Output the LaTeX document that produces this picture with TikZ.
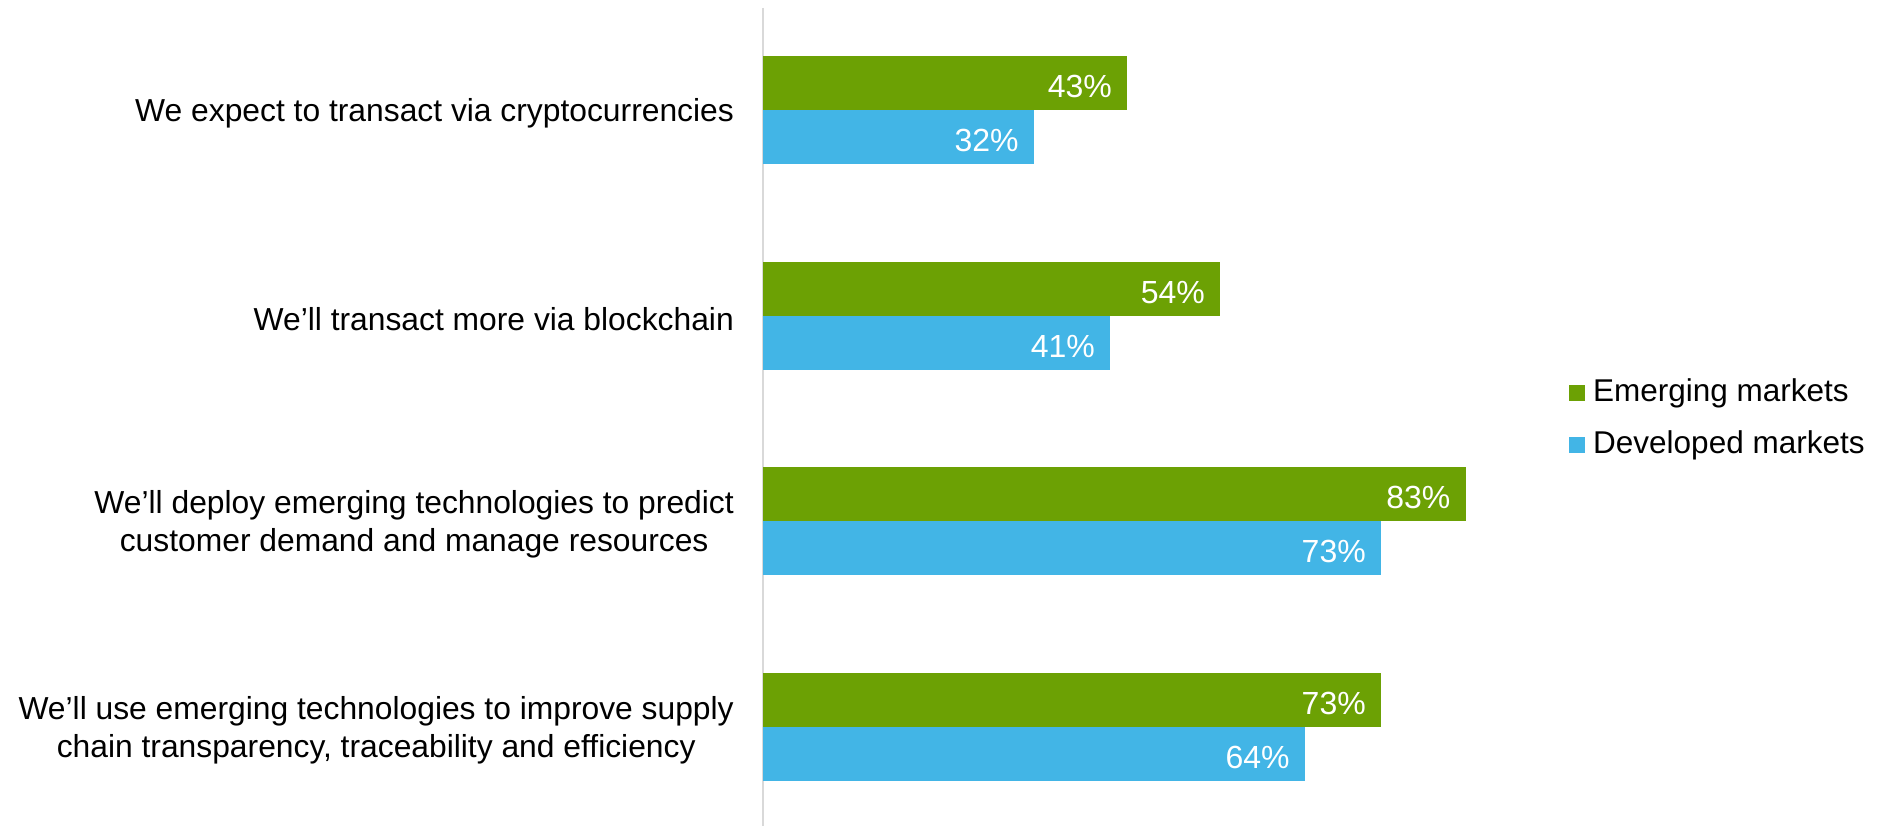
\documentclass[tikz,border=0pt]{standalone}
\usepackage{fontspec}
\setmainfont{Liberation Sans}
\definecolor{emg}{HTML}{6CA104}
\definecolor{dev}{HTML}{42B5E6}
\definecolor{axisgray}{HTML}{D9D9D9}
\begin{document}
\begin{tikzpicture}[x=1pt,y=-1pt,
  catlabel/.style={anchor=east,align=center,font=\fontsize{31.8}{38.5}\selectfont,text=black,inner sep=0pt},
  pct/.style={anchor=east,font=\fontsize{32}{38}\selectfont,text=white,inner sep=0pt},
  legtext/.style={anchor=west,font=\fontsize{31.5}{38}\selectfont,text=black,inner sep=0pt},
  emgbar/.style={fill=emg,draw=none},
  devbar/.style={fill=dev,draw=none}]
\useasboundingbox (0,0) rectangle (1884,826);
\def\ppc{8.465}
\def\zx{763}
% axis
\draw[axisgray,line width=1.5pt] (\zx,8) coordinate (axtop) -- (\zx,826) coordinate (axbot);
% bars
\foreach \i/\top/\ev/\dv in {1/56/43/32, 2/262/54/41, 3/467/83/73, 4/673/73/64}{
  \fill[emgbar] (\zx,\top) rectangle ({\zx+\ev*\ppc},\top+54);
  \fill[devbar] (\zx,\top+54) rectangle ({\zx+\dv*\ppc},\top+108);
  \node[pct] (e\i) at ({\zx+\ev*\ppc-15},\top+30.5) {\ev\%};
  \node[pct] (d\i) at ({\zx+\dv*\ppc-15},\top+84.5) {\dv\%};
}
% category labels
\node[catlabel] (c1) at (734,113.5) {We expect to transact via cryptocurrencies};
\node[catlabel] (c2) at (734,319.5) {We’ll transact more via blockchain};
\node[catlabel] (c3) at (734,524.5) {We’ll deploy emerging technologies to predict\\customer demand and manage resources};
\node[catlabel] (c4) at (734,730.5) {We’ll use emerging technologies to improve supply\\chain transparency, traceability and efficiency};
% legend
\fill[emg] (1569,385) rectangle (1585,401);
\node[legtext] (l1) at (1593,393) {Emerging markets};
\fill[dev] (1569,437) rectangle (1585,453);
\node[legtext] (l2) at (1593,445) {Developed markets};
\end{tikzpicture}
\end{document}
